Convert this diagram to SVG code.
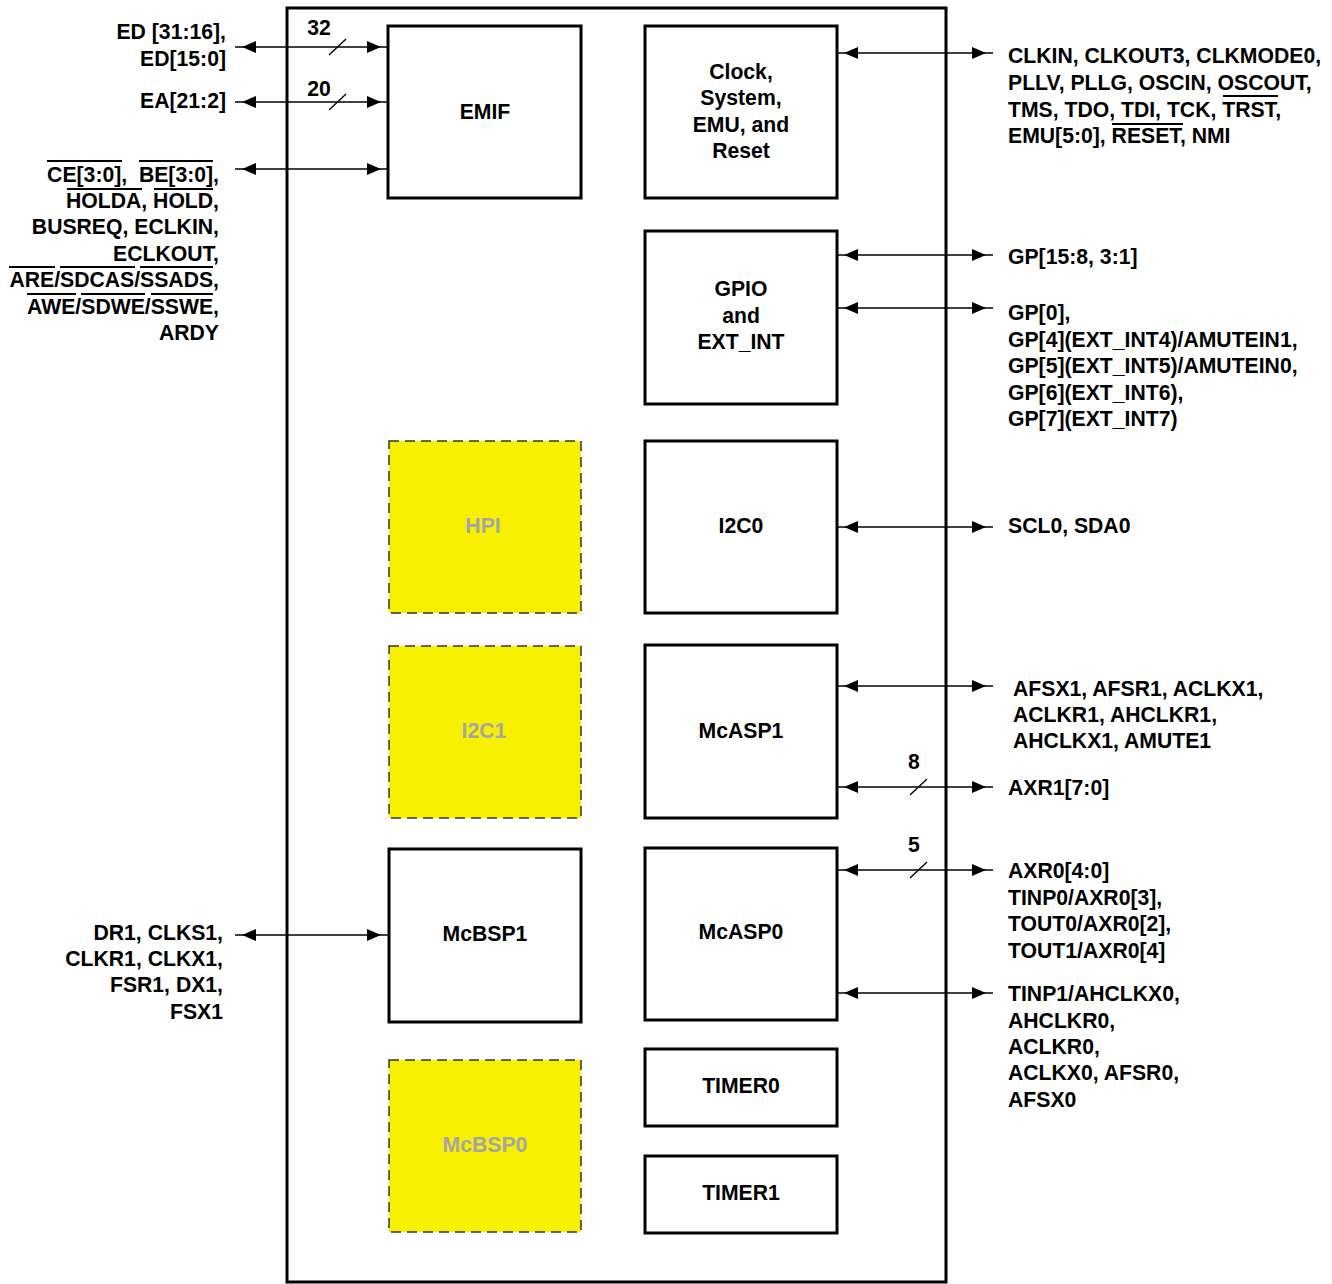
<svg xmlns="http://www.w3.org/2000/svg" width="1332" height="1284" viewBox="0 0 1332 1284">
<style>
text{font-family:"Liberation Sans",Arial,sans-serif;font-weight:bold;font-size:21.2px;fill:#000}
.c{text-anchor:middle}
.e{text-anchor:end}
.g{fill:#a6a6a6}
.pre{white-space:pre}
.box{fill:#fff;stroke:#000;stroke-width:3}
.dbox{fill:#f7f000;stroke:#333;stroke-width:1.5;stroke-dasharray:10,6}
.ln{stroke:#000;stroke-width:1.5;fill:none;marker-start:url(#ah);marker-end:url(#ah)}
.sl{stroke:#000;stroke-width:1.3}
.ov{stroke:#000;stroke-width:2}
</style>
<defs>
<marker id="ah" markerUnits="userSpaceOnUse" markerWidth="24" markerHeight="12" refX="21" refY="6" orient="auto-start-reverse">
<path d="M0,0 L14,6 L0,12 z" fill="#000"/>
</marker>
</defs>
<rect id="chip" x="287" y="8" width="659" height="1274" fill="none" stroke="#000" stroke-width="3"/>

<g id="connectors">
<line class="ln" x1="235" y1="47" x2="388" y2="47"/>
<line class="ln" x1="235" y1="102" x2="388" y2="102"/>
<line class="ln" x1="235" y1="169" x2="388" y2="169"/>
<line class="ln" x1="235" y1="935" x2="388" y2="935"/>
<line class="ln" x1="837" y1="53" x2="993" y2="53"/>
<line class="ln" x1="837" y1="255" x2="993" y2="255"/>
<line class="ln" x1="837" y1="308" x2="993" y2="308"/>
<line class="ln" x1="837" y1="527" x2="993" y2="527"/>
<line class="ln" x1="837" y1="686" x2="993" y2="686"/>
<line class="ln" x1="837" y1="787" x2="993" y2="787"/>
<line class="ln" x1="837" y1="870" x2="993" y2="870"/>
<line class="ln" x1="837" y1="993" x2="993" y2="993"/>
<line class="sl" x1="329" y1="55" x2="346" y2="39"/>
<line class="sl" x1="329" y1="110" x2="346" y2="94"/>
<line class="sl" x1="910" y1="795" x2="927" y2="779"/>
<line class="sl" x1="910" y1="878" x2="927" y2="862"/>
<text class="c" x="319" y="35">32</text>
<text class="c" x="319" y="96">20</text>
<text class="c" x="914" y="769">8</text>
<text class="c" x="914" y="852">5</text>
</g>

<g id="emif"><rect class="box" x="388" y="26" width="193" height="172"/><text class="c" x="485" y="119">EMIF</text></g>
<g id="clock"><rect class="box" x="645" y="26" width="192" height="172"/>
<text class="c" x="741" y="79">Clock,</text><text class="c" x="741" y="105">System,</text><text class="c" x="741" y="132">EMU, and</text><text class="c" x="741" y="158">Reset</text></g>
<g id="gpio"><rect class="box" x="645" y="231" width="192" height="173"/>
<text class="c" x="741" y="296">GPIO</text><text class="c" x="741" y="323">and</text><text class="c" x="741" y="349">EXT_INT</text></g>
<g id="hpi"><rect class="dbox" x="389" y="441" width="192" height="172"/><text class="c g" x="483" y="533">HPI</text></g>
<g id="i2c0"><rect class="box" x="645" y="441" width="192" height="172"/><text class="c" x="741" y="533">I2C0</text></g>
<g id="i2c1"><rect class="dbox" x="389" y="646" width="192" height="172"/><text class="c g" x="484" y="738">I2C1</text></g>
<g id="mcasp1"><rect class="box" x="645" y="645" width="192" height="173"/><text class="c" x="741" y="738">McASP1</text></g>
<g id="mcbsp1"><rect class="box" x="389" y="849" width="192" height="173"/><text class="c" x="485" y="941">McBSP1</text></g>
<g id="mcasp0"><rect class="box" x="645" y="848" width="192" height="172"/><text class="c" x="741" y="939">McASP0</text></g>
<g id="mcbsp0"><rect class="dbox" x="389" y="1060" width="192" height="172"/><text class="c g" x="485" y="1152">McBSP0</text></g>
<g id="timer0"><rect class="box" x="645" y="1049" width="192" height="77"/><text class="c" x="741" y="1093">TIMER0</text></g>
<g id="timer1"><rect class="box" x="645" y="1156" width="192" height="77"/><text class="c" x="741" y="1200">TIMER1</text></g>

<g id="labels-left">
<text class="e" x="226" y="39">ED [31:16],</text>
<text class="e" x="226" y="66">ED[15:0]</text>
<text class="e" x="226" y="108">EA[21:2]</text>
<text class="e pre" x="219" y="182">CE[3:0],  BE[3:0],</text>
<text class="e" x="219" y="208">HOLDA, HOLD,</text>
<text class="e" x="219" y="234">BUSREQ, ECLKIN,</text>
<text class="e" x="219" y="261">ECLKOUT,</text>
<text class="e" x="219" y="287">ARE/SDCAS/SSADS,</text>
<text class="e" x="219" y="314">AWE/SDWE/SSWE,</text>
<text class="e" x="219" y="340">ARDY</text>
<line class="ov" x1="47" y1="161" x2="122" y2="161"/>
<line class="ov" x1="139" y1="161" x2="213" y2="161"/>
<line class="ov" x1="67" y1="189" x2="142" y2="189"/>
<line class="ov" x1="154" y1="189" x2="213" y2="189"/>
<line class="ov" x1="9" y1="267" x2="55" y2="267"/>
<line class="ov" x1="60" y1="267" x2="135" y2="267"/>
<line class="ov" x1="140" y1="267" x2="213" y2="267"/>
<line class="ov" x1="27" y1="294" x2="76" y2="294"/>
<line class="ov" x1="81" y1="294" x2="145" y2="294"/>
<line class="ov" x1="151" y1="294" x2="213" y2="294"/>
<text class="e" x="223" y="940">DR1, CLKS1,</text>
<text class="e" x="223" y="966">CLKR1, CLKX1,</text>
<text class="e" x="223" y="992">FSR1, DX1,</text>
<text class="e" x="223" y="1019">FSX1</text>
</g>

<g id="labels-right">
<text x="1008" y="63">CLKIN, CLKOUT3, CLKMODE0,</text>
<text x="1008" y="90">PLLV, PLLG, OSCIN, OSCOUT,</text>
<text x="1008" y="117">TMS, TDO, TDI, TCK, TRST,</text>
<text x="1008" y="143">EMU[5:0], RESET, NMI</text>
<line class="ov" x1="1223" y1="96" x2="1278" y2="96"/>
<line class="ov" x1="1112" y1="124" x2="1183" y2="124"/>
<text x="1008" y="264">GP[15:8, 3:1]</text>
<text x="1008" y="320">GP[0],</text>
<text x="1008" y="347">GP[4](EXT_INT4)/AMUTEIN1,</text>
<text x="1008" y="373">GP[5](EXT_INT5)/AMUTEIN0,</text>
<text x="1008" y="400">GP[6](EXT_INT6),</text>
<text x="1008" y="426">GP[7](EXT_INT7)</text>
<text x="1008" y="533">SCL0, SDA0</text>
<text x="1013" y="696">AFSX1, AFSR1, ACLKX1,</text>
<text x="1013" y="722">ACLKR1, AHCLKR1,</text>
<text x="1013" y="748">AHCLKX1, AMUTE1</text>
<text x="1008" y="795">AXR1[7:0]</text>
<text x="1008" y="878">AXR0[4:0]</text>
<text x="1008" y="905">TINP0/AXR0[3],</text>
<text x="1008" y="931">TOUT0/AXR0[2],</text>
<text x="1008" y="958">TOUT1/AXR0[4]</text>
<text x="1008" y="1001">TINP1/AHCLKX0,</text>
<text x="1008" y="1028">AHCLKR0,</text>
<text x="1008" y="1054">ACLKR0,</text>
<text x="1008" y="1080">ACLKX0, AFSR0,</text>
<text x="1008" y="1107">AFSX0</text>
</g>
</svg>
